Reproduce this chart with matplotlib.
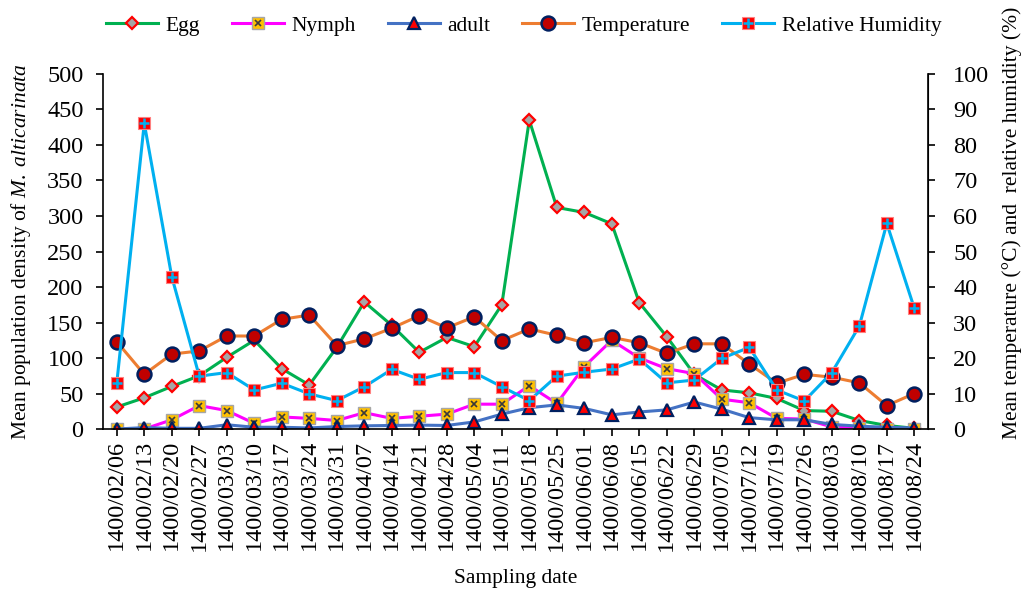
import matplotlib.pyplot as plt
from matplotlib.legend_handler import HandlerTuple
import numpy as np

plt.rcParams['font.family'] = ['Liberation Serif', 'DejaVu Serif']
plt.rcParams['mathtext.fontset'] = 'custom'
plt.rcParams['mathtext.rm'] = 'Liberation Serif'
plt.rcParams['mathtext.it'] = 'Liberation Serif:italic'

dates = ["1400/02/06", "1400/02/13", "1400/02/20", "1400/02/27", "1400/03/03",
         "1400/03/10", "1400/03/17", "1400/03/24", "1400/03/31", "1400/04/07",
         "1400/04/14", "1400/04/21", "1400/04/28", "1400/05/04", "1400/05/11",
         "1400/05/18", "1400/05/25", "1400/06/01", "1400/06/08", "1400/06/15",
         "1400/06/22", "1400/06/29", "1400/07/05", "1400/07/12", "1400/07/19",
         "1400/07/26", "1400/08/03", "1400/08/10", "1400/08/17", "1400/08/24"]

egg = [31, 44, 60, 75, 101, 125, 85, 62, 115, 179,
       146, 108, 129, 116, 175, 435, 312, 305, 289, 178,
       130, 77, 55, 51, 43, 26, 25, 12, 5, 1]
nymph = [0, 0, 13, 33, 26, 8, 17, 15, 12, 23,
         15, 18, 21, 35, 35, 61, 36, 88, 125, 100,
         85, 78, 42, 37, 15, 14, 3, 1, 0.5, 0]
adult = [0, 2, 1, 1, 6, 2.5, 2.5, 1.5, 3.5, 4.5,
         5, 5.5, 5, 10, 21, 30, 34, 29, 20, 24,
         27, 38, 28, 16, 13, 13, 6.5, 4, 2.5, 1.5]
temperature = [24.6, 15.4, 21.1, 22.0, 26.2, 26.2, 30.9, 32.1, 23.5, 25.4,
               28.4, 31.9, 28.5, 31.6, 24.9, 28.2, 26.4, 24.3, 25.8, 24.3,
               21.3, 24.0, 24.0, 18.3, 12.9, 15.4, 14.6, 13.0, 6.6, 10.0]
humidity = [12.9, 86.1, 42.9, 14.9, 15.9, 11.0, 12.9, 9.9, 8.0, 11.9,
            16.8, 14.0, 15.9, 15.9, 11.9, 8.0, 14.9, 16.0, 16.9, 19.7,
            13.0, 13.8, 19.9, 23.0, 11.0, 7.9, 15.9, 29.0, 57.9, 34.0]

x = np.arange(len(dates))

fig = plt.figure(figsize=(10.23, 5.89), dpi=100)
ax = fig.add_axes([0.1007, 0.2716, 0.8065, 0.6028])
ax2 = ax.twinx()

lw = 2.2
h_egg, = ax.plot(x, egg, color='#00B050', lw=lw, marker='D', ms=6,
                 mfc='#A6A6A6', mec='#FF0000', mew=1.6)
h_ny, = ax.plot(x, nymph, color='#FF00FF', lw=lw, marker='s', ms=8,
                mfc='#FFC000', mec='#A6A6A6', mew=1.0)
h_ny2, = ax.plot(x, nymph, ls='none', marker='x', ms=5, mec='#3A3A3A', mew=1.2)
h_ad, = ax.plot(x, adult, color='#4472C4', lw=lw, marker='^', ms=8,
                mfc='#FF0000', mec='#002060', mew=1.6)
h_t, = ax2.plot(x, temperature, color='#ED7D31', lw=lw, marker='o', ms=10,
                mfc='#C00000', mec='#002060', mew=1.8)
h_rh, = ax2.plot(x, humidity, color='#00B0F0', lw=lw, marker='s', ms=8,
                 mfc='#FF0000', mec='#FF8080', mew=0.8)
h_rh2, = ax2.plot(x, humidity, ls='none', marker='+', ms=7, mec='#00B0F0', mew=1.8)

ax.set_xlim(-0.5, len(dates) - 0.5)
ax.set_ylim(0, 500)
ax.set_yticks(np.arange(0, 501, 50))
ax2.set_ylim(0, 100)
ax2.set_yticks(np.arange(0, 101, 10))
ax.set_xticks(x)
ax.set_xticklabels(dates, rotation=90)

for a in (ax, ax2):
    a.spines['top'].set_visible(False)
    a.tick_params(direction='out', length=5, width=1.2, labelsize=17.5)
ax.tick_params(axis='x', pad=3)
ax.tick_params(axis='y', pad=9)
ax2.tick_params(axis='y', pad=13)
ax.spines['left'].set_linewidth(1.2)
ax.spines['bottom'].set_linewidth(1.2)
ax2.spines['right'].set_linewidth(1.2)
ax2.spines['left'].set_visible(False)
ax2.spines['bottom'].set_visible(False)

ax.set_xlabel("Sampling date", fontsize=15.5, labelpad=13)
ax.set_ylabel("Mean population density of $\\it{M.\\ alticarinata}$", fontsize=15.5, labelpad=10)
ax2.set_ylabel("Mean temperature (\u00b0C) and  relative humidity (%)", fontsize=15.5)
ax2.yaxis.set_label_coords(1.09, 0.58)

handles = [h_egg, (h_ny, h_ny2), h_ad, h_t, (h_rh, h_rh2)]
labels = ["Egg", "Nymph", "adult", "Temperature", "Relative Humidity"]
fig.legend(handles, labels, loc='center', bbox_to_anchor=(0.512, 0.956), ncol=5,
           frameon=False, fontsize=15.5, handlelength=2.4, handletextpad=0.35,
           columnspacing=1.5,
           handler_map={tuple: HandlerTuple(ndivide=1, pad=0)})

fig.savefig("out.png", dpi=100)
